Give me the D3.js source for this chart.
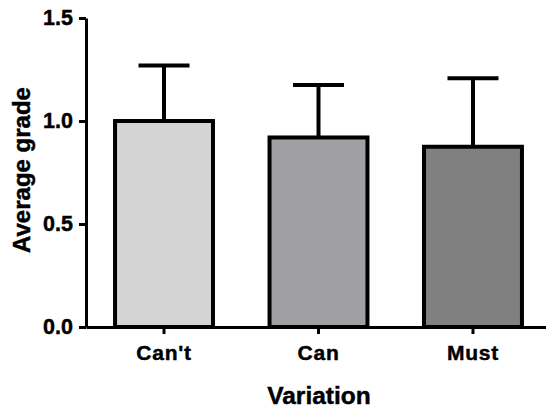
<!DOCTYPE html>
<html>
<head>
<meta charset="utf-8">
<script src="https://cdn.jsdelivr.net/npm/d3@7"></script>
<style>
  html, body { margin: 0; padding: 0; background: #fff; }
  svg { display: block; }
  text { font-family: "Liberation Sans", Arial, sans-serif; font-weight: bold; fill: #000; stroke: #000; stroke-width: 0.45px; }
</style>
</head>
<body>
<svg id="chart" width="546" height="408"></svg>
<script>
const categories = ["Can't", "Can", "Must"];
const means = [1.0, 0.92, 0.875];
const errors = [0.27, 0.255, 0.333];
const barColors = ["#d4d4d4", "#a09fa4", "#808080"];
const yTicks = [0.0, 0.5, 1.0, 1.5];
const xTitle = "Variation";
const yTitle = "Average grade";

const svg = d3.select("#chart");
const x0 = 86, yBottom = 327;

const x = d3.scaleBand().domain(categories).range([x0, 551]).paddingInner(0.366).paddingOuter(0.188);
const y = d3.scaleLinear().domain([0, 1.5]).range([yBottom, 18]);

// bars
svg.append("g").selectAll("rect").data(categories).join("rect")
  .attr("x", d => x(d))
  .attr("width", x.bandwidth())
  .attr("y", (d, i) => y(means[i]))
  .attr("height", (d, i) => y(0) - y(means[i]))
  .attr("fill", (d, i) => barColors[i])
  .attr("stroke", "#000")
  .attr("stroke-width", 4);

// error bars
const eg = svg.append("g").attr("stroke", "#000").attr("stroke-width", 4);
categories.forEach((c, i) => {
  const cx = x(c) + x.bandwidth() / 2;
  eg.append("line").attr("x1", cx).attr("x2", cx).attr("y1", y(means[i])).attr("y2", y(means[i] + errors[i]));
  eg.append("line").attr("x1", cx - 25.5).attr("x2", cx + 25.5).attr("y1", y(means[i] + errors[i])).attr("y2", y(means[i] + errors[i]));
});

// x axis
const xa = svg.append("g").attr("transform", `translate(0,${yBottom})`)
  .call(d3.axisBottom(x).tickSize(7).tickSizeOuter(0).tickPadding(6));
xa.select(".domain").attr("stroke-width", 3);
xa.selectAll(".tick line").attr("stroke-width", 3);
xa.selectAll(".tick text").attr("font-size", 21).style("letter-spacing", "0.8px").attr("dy", "0.95em");

// y axis
const ya = svg.append("g").attr("transform", `translate(${x0},0)`)
  .call(d3.axisLeft(y).tickValues(yTicks).tickFormat(d3.format(".1f")).tickSize(7).tickSizeOuter(0).tickPadding(6));
ya.select(".domain").attr("stroke-width", 3);
ya.selectAll(".tick line").attr("stroke-width", 3);
ya.selectAll(".tick text").attr("font-size", 21.5);

// titles
svg.append("text").attr("x", 319).attr("y", 404).attr("text-anchor", "middle")
  .attr("font-size", 24.5).text(xTitle);
svg.append("text").attr("transform", "translate(30,170) rotate(-90)").attr("text-anchor", "middle")
  .attr("font-size", 24).text(yTitle);
</script>
</body>
</html>
